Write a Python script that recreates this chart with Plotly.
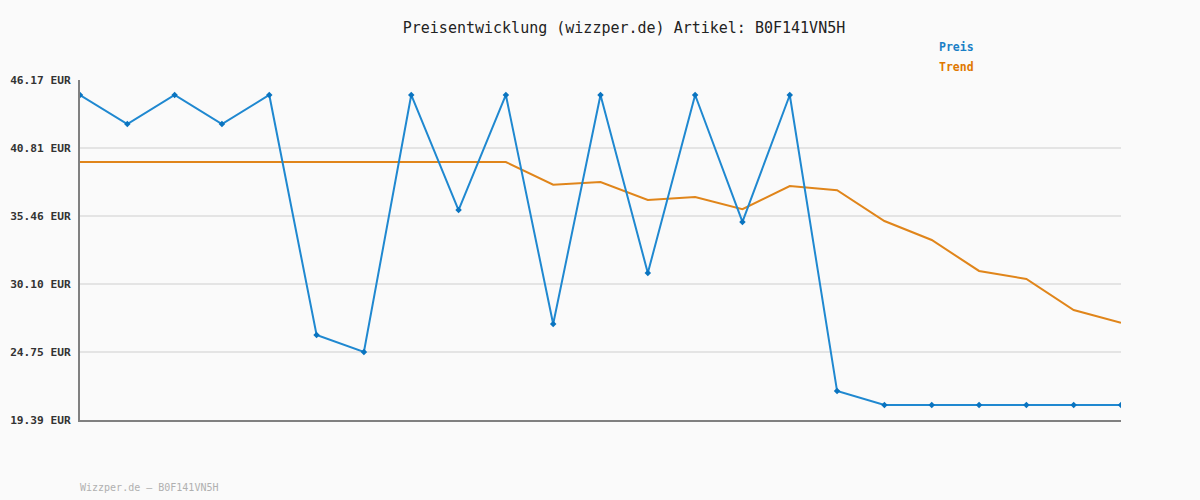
import plotly.graph_objects as go

idx = list(range(23))
preis = [44.99, 42.70, 44.99, 42.70, 44.99, 26.08, 24.75, 44.99, 35.93, 44.99,
         26.95, 44.99, 30.97, 44.99, 34.99, 44.99, 21.67, 20.57, 20.57, 20.57,
         20.57, 20.57, 20.57]
trend = [39.71, 39.71, 39.71, 39.71, 39.71, 39.71, 39.71, 39.71, 39.71, 39.71,
         37.92, 38.14, 36.72, 36.95, 35.99, 37.82, 37.49, 35.06, 33.57, 31.13,
         30.50, 28.05, 27.05]
tick_vals = [19.39, 24.75, 30.10, 35.46, 40.81, 46.17]
tick_text = ["19.39 EUR", "24.75 EUR", "30.10 EUR", "35.46 EUR", "40.81 EUR", "46.17 EUR"]

FONT = "DejaVu Sans Mono"
BLUE = "#1f88d0"
BLUE_M = "#0a74c0"
ORANGE = "#e0851a"

fig = go.Figure()
fig.add_trace(go.Scatter(x=idx, y=trend, mode="lines", name="Trend",
                         line=dict(color=ORANGE, width=2), hoverinfo="y"))
fig.add_trace(go.Scatter(x=idx, y=preis, mode="lines+markers", name="Preis",
                         line=dict(color=BLUE, width=2),
                         marker=dict(color=BLUE_M, size=5, symbol="diamond"),
                         hoverinfo="y"))

fig.update_layout(
    width=1200, height=500,
    paper_bgcolor="#fafafa", plot_bgcolor="#fafafa",
    margin=dict(l=80, r=79, t=80, b=80, autoexpand=False),
    showlegend=False,
    title=dict(text="Preisentwicklung (wizzper.de) Artikel: B0F141VN5H",
               x=0.52, xanchor="center", y=0.944, yanchor="middle",
               font=dict(family=FONT, size=15, color="#222222")),
    xaxis=dict(range=[0, 22], showgrid=False, zeroline=False, showticklabels=False,
               showline=True, linecolor="#808080", linewidth=2, ticks="", automargin=False),
    yaxis=dict(range=[19.39, 46.17], tickvals=tick_vals, ticktext=tick_text,
               showgrid=True, gridcolor="#e4e4e4", gridwidth=2, zeroline=False,
               showline=True, linecolor="#808080", linewidth=2, ticks="",
               ticklabelstandoff=5, automargin=False,
               tickfont=dict(family=FONT, size=11.2, color="#333333", weight="bold")),
    annotations=[
        dict(text="<b>Preis</b>", xref="paper", yref="paper", x=(937-80)/1041, y=(420-47)/340,
             xanchor="left", yanchor="middle", showarrow=False,
             font=dict(family=FONT, size=11.5, color="#1a7fc6")),
        dict(text="<b>Trend</b>", xref="paper", yref="paper", x=(937-80)/1041, y=(420-67)/340,
             xanchor="left", yanchor="middle", showarrow=False,
             font=dict(family=FONT, size=11.5, color="#e07800")),
        dict(text="Wizzper.de – B0F141VN5H", xref="paper", yref="paper", x=-2/1041, y=-(487-420)/340,
             xanchor="left", yanchor="middle", showarrow=False,
             font=dict(family=FONT, size=10, color="#b0b0b0")),
    ],
)

fig.write_html("out.html", config={"displayModeBar": False},
               post_script="document.body.style.margin='0';document.body.style.background='#fafafa';")
